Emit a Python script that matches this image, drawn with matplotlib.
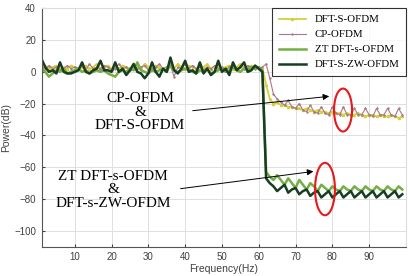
import matplotlib
matplotlib.use("Agg")
import matplotlib.pyplot as plt
from matplotlib.patches import Ellipse

# frecuencias (Hz)
freq = list(range(1, 100))

# DFT-S-OFDM
dft_s = [3, 4, 2, 3, 4, 2, 3, 2, 4, 3,
         2, 3, 4, 2, 3, 5, 2, 3, 4, 2,
         3, 2, 4, 3, 2, 4, 3, 2, 5, 3,
         2, 4, 3, 2, 3, 4, 2, 5, 3, 2,
         4, 3, 2, 4, 3, 5, 2, 3, 4, 2,
         3, 4, 2, 3, 5, 3, 2, 4, 3,
         3, 2, -8, -17, -20, -19, -21, -21, -22, -22, -23, -23, -24, -23, -24, -25, -24, -25, -25, -26,
         -25, -26, -26, -27, -26, -27, -27, -26, -27, -28, -27, -27, -28, -27, -28, -28, -27, -28, -29, -28]

# CP-OFDM
cp = [3, 2, 4, 2, 3, 1, 2, 4, 2, 3,
      2, 4, 1, 5, 2, 3, 2, 4, 3, 1,
      2, 5, 2, 3, 1, 4, 2, 3, 4, 1,
      2, 3, 5, 2, 3, 4, -3, 3, 2, 5,
      2, 4, 2, 3, 1, 3, 2, 4, 2, 3,
      1, 3, 4, 2, 3, 2, 4, 3, 2,
      2, 3, 5, -4, -14, -17, -19, -21, -18, -22, -23, -20, -24, -25, -21, -25, -26, -22, -26, -27,
      -22, -26, -27, -22, -27, -27, -23, -27, -27, -23, -27, -28, -23, -27, -27, -23, -27, -28, -23, -27]

# ZT DFT-s-OFDM
zt = [2, 0, -3, -1, 1, 0, 2, -1, 0, 1,
      2, 0, 1, -1, 0, 1, 0, 1, -1, -2,
      -3, 0, 1, 0, 2, 1, 6, 1, 0, -1,
      1, 0, 1, 2, 0, 5, 1, 0, 1, 2,
      1, 0, -1, 1, 0, 2, -1, 0, 1, 2,
      0, 1, 3, 1, 0, 2, 1, 3, 2,
      3, 1, -63, -66, -68, -65, -68, -71, -67, -70, -73, -68, -71, -74, -70, -72, -75, -71, -73, -75,
      -72, -74, -75, -72, -74, -75, -72, -74, -75, -72, -74, -75, -72, -74, -75, -72, -74, -75, -72, -74]

# DFT-S-ZW-OFDM
zw = [8, 3, 0, 1, -1, 6, 0, -1, -1, 0,
      1, 6, 0, -1, 1, 2, 7, 1, 1, 0,
      6, 0, 2, -2, 1, 5, 0, -1, -4, -1,
      6, 0, -3, 2, 0, 9, 1, -1, 2, 7,
      0, 1, -1, 6, -1, 2, -2, 0, 7, 0,
      2, -2, 6, 1, 3, 6, 0, 1, 4,
      2, 0, -67, -70, -72, -75, -73, -71, -76, -74, -73, -77, -75, -74, -78, -76, -75, -79, -77, -75,
      -79, -77, -75, -79, -77, -75, -79, -77, -75, -79, -77, -75, -79, -77, -75, -79, -77, -75, -79, -77]

plt.rcParams['font.family'] = ['Liberation Sans', 'DejaVu Sans']

fig = plt.figure(figsize=(4.08, 2.76), dpi=100)
ax = fig.add_axes([0.102, 0.106, 0.893, 0.864])

ax.plot(freq, dft_s, color='#d6cf3a', lw=1.3, marker='^', ms=1.5, label='DFT-S-OFDM')
ax.plot(freq, cp, color='#a87a84', lw=0.8, marker='+', ms=2, label='CP-OFDM')
ax.plot(freq, zt, color='#74ae45', lw=1.8, label='ZT DFT-s-OFDM')
ax.plot(freq, zw, color='#173d22', lw=1.8, label='DFT-S-ZW-OFDM')

ax.set_xlim(1, 100)
ax.set_ylim(-110, 40)
ax.set_xticks([10, 20, 30, 40, 50, 60, 70, 80, 90])
ax.set_yticks([-100, -80, -60, -40, -20, 0, 20, 40])
ax.grid(True, color='#e0e0e0', lw=0.7)
ax.set_axisbelow(True)
ax.tick_params(direction='in', length=2.5, labelsize=7, colors='#404040', pad=4)
for s in ['left', 'bottom']:
    ax.spines[s].set_color('#555555')
for s in ['top', 'right']:
    ax.spines[s].set_color('#dddddd')

ax.set_ylabel('Power(dB)', fontsize=7.5, color='#404040', labelpad=2)
ax.set_xlabel('Frequency(Hz)', fontsize=7.5, color='#404040', labelpad=1)

leg = ax.legend(loc='upper right', prop={'family': 'Liberation Serif', 'size': 7.8},
                frameon=True, fancybox=False, edgecolor='black', borderaxespad=0,
                handlelength=2.5, labelspacing=0.5, borderpad=0.6)
leg.get_frame().set_linewidth(0.8)

# textos y flechas
ax.text(27.7, -25.3, 'CP-OFDM\n&\nDFT-S-OFDM', family='Liberation Serif', fontsize=11,
        ha='center', va='center', linespacing=1.05)
ax.text(20.4, -74.3, 'ZT DFT-s-OFDM\n&\nDFT-s-ZW-OFDM', family='Liberation Serif', fontsize=11,
        ha='center', va='center', linespacing=1.05)
ax.annotate('', xy=(79.9, -15.2), xytext=(41.3, -24.6),
            arrowprops=dict(arrowstyle='-|>', color='black', lw=0.7, mutation_scale=9))
ax.annotate('', xy=(75.6, -62.4), xytext=(38.0, -73.7),
            arrowprops=dict(arrowstyle='-|>', color='black', lw=0.7, mutation_scale=9))

ax.add_patch(Ellipse((82.9, -24), 4.9, 27, fill=False, edgecolor='#e8191c', lw=1.5, zorder=5))
ax.add_patch(Ellipse((78.0, -73.7), 5.4, 33, fill=False, edgecolor='#e8191c', lw=1.5, zorder=5))

fig.savefig('out.png', dpi=100)
